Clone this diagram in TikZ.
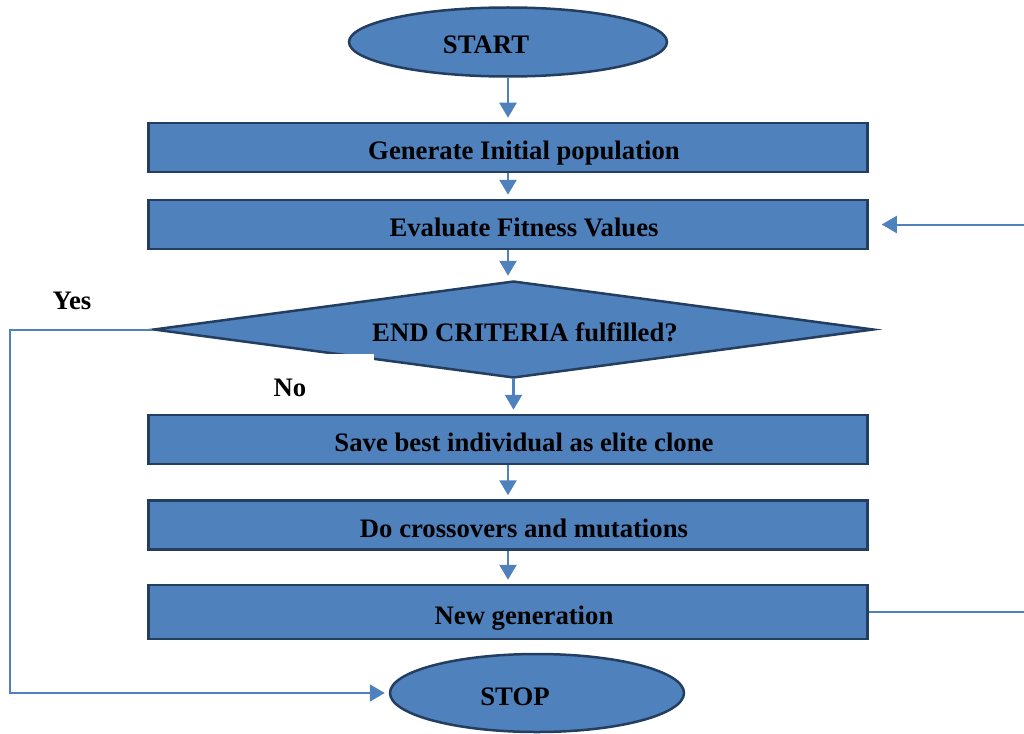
\documentclass[tikz,border=0pt]{standalone}
\usepackage{fontspec}
\setmainfont{Liberation Serif}
\usetikzlibrary{shapes.geometric, arrows.meta}
\definecolor{boxfill}{RGB}{79,129,189}
\definecolor{boxline}{RGB}{36,62,96}

\tikzset{
  flowfont/.style={font=\fontsize{26.7}{30}\selectfont\bfseries, text=black,
                   text height=26pt, text depth=2pt},
  process/.style={rectangle, draw=boxline, fill=boxfill, line width=2.5pt,
                  minimum width=719pt, minimum height=49pt, flowfont,
                  execute at begin node=\hspace*{32pt}},
  terminal/.style={ellipse, draw=boxline, fill=boxfill, line width=2.5pt,
                   minimum width=318pt, minimum height=69pt, flowfont,
                   execute at begin node=\hspace*{-44pt}},
  decision/.style={diamond, aspect=7.5, draw=boxline, fill=boxfill, line width=2.5pt,
                   inner sep=0pt, minimum width=720pt, minimum height=97pt, flowfont,
                   execute at begin node=\hspace*{23pt}},
  answer/.style={flowfont, inner sep=0pt}
}

\begin{document}
\begin{tikzpicture}[x=1pt,y=-1pt,->,>={Triangle[width=17pt,length=15pt]},
                    shorten >=4pt,line width=2.5pt,color=boxfill]
    \useasboundingbox (0,0) rectangle (1024,733);

    \node[terminal] (start) at (508,42) {START};
    \node[process] (init) at (508,147.5) {Generate Initial population};
    \node[process] (eval) at (508,224.5) {Evaluate Fitness Values};
    \node[decision] (crit) at (513.5,329.5) {END CRITERIA fulfilled?};
    \node[answer, fill=white, minimum width=168pt, minimum height=60pt] (no) at (290,384) {No};
    \node[answer] (yes) at (72,297) {Yes};
    \node[process] (elite) at (508,439.5) {Save best individual as elite clone};
    \node[process] (cross) at (508,525) {Do crossovers and mutations};
    \node[process, minimum height=54pt] (newgen) at (508,612) {New generation};
    \node[terminal, minimum width=294pt, minimum height=78pt] (stop) at (537,693) {STOP};

    \coordinate (yesturn) at (10,329.5);
    \coordinate (loopturn) at (1040,612);
    \coordinate (loopend) at ([xshift=9pt]eval.east);

    \path
    (start) edge (init)
    (init) edge (eval)
    (eval.south) edge (eval.south |- crit.north)
    (crit.south) edge (crit.south |- elite.north)
    (elite) edge (cross)
    (cross) edge (newgen)
    ;

    \draw[line width=2pt] (crit.west) -- (yesturn) |- (stop.west);
    \draw[line width=2pt] (newgen.east) -- (loopturn) |- (loopend);
\end{tikzpicture}
\end{document}
